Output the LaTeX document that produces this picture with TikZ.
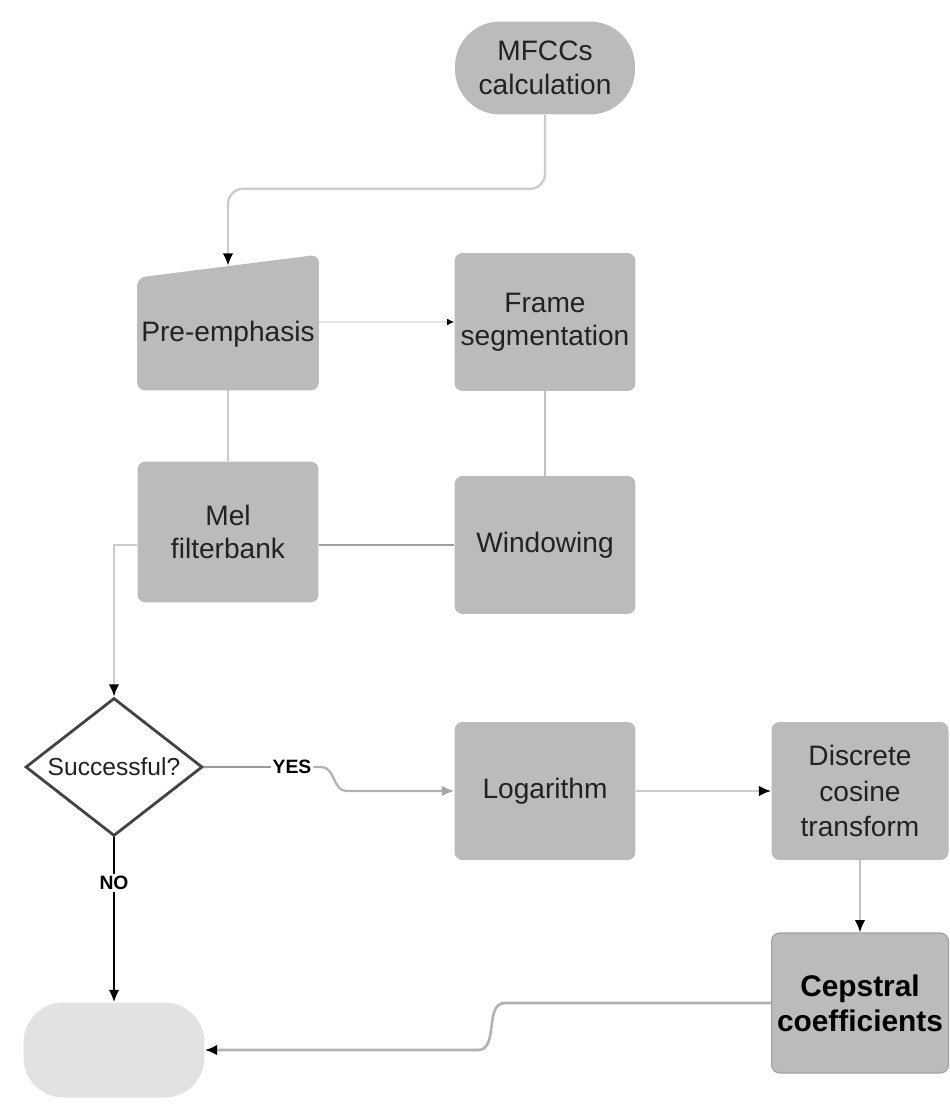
\documentclass[tikz,border=0pt]{standalone}
\usepackage{fontspec}
\setmainfont{Liberation Sans}
\usetikzlibrary{shapes.geometric,arrows.meta,backgrounds}
\definecolor{boxgray}{RGB}{187,187,187}
\definecolor{endgray}{RGB}{226,226,226}
\definecolor{inkgray}{RGB}{34,34,34}
\tikzset{
  box/.style={fill=boxgray, rounded corners=0.16cm, minimum width=3.62cm,
    minimum height=2.76cm, align=center, text=inkgray, inner sep=0pt,
    font=\fontsize{16}{19}\selectfont},
  pill/.style={box, rounded corners=0.9cm, minimum width=3.6cm, minimum height=1.86cm},
  decision/.style={diamond, draw=inkgray!85, line width=1.6pt, fill=white,
    minimum width=3.54cm, minimum height=2.76cm, inner sep=0pt},
  tag/.style={fill=white, text=black, inner sep=1pt,
    font=\bfseries\fontsize{11}{13}\selectfont},
  line/.style={draw=gray!40, line width=1.3pt},
  tip/.style={-{Latex[color=black, length=7pt, width=6pt]}},
}
\begin{document}
\begin{tikzpicture}[x=0.02cm, y=-0.02cm]
  \def\Xa{114} % decision column
  \def\Xb{228}
  \def\Xc{545}
  \def\Xd{860}

  \useasboundingbox (0,0) rectangle (949,1104);

        % start
        \node[pill] (mfcc) at (\Xc, 68) {MFCCs\\calculation};

        % first rows
        \node[box, fill=none, minimum height=2.24cm] (pre) at (\Xb, 334) {Pre-emphasis};
        \node[box] (frame) at (\Xc, 322) {Frame\\segmentation};
        \node[box, minimum height=2.82cm] (mel) at (\Xb, 532) {Mel\\filterbank};
        \node[box] (win) at (\Xc, 545) {Windowing};
        % slanted top of pre-emphasis
        \begin{scope}[on background layer]
          \fill[boxgray, rounded corners=0.16cm] (pre.south west) -- (pre.north west)
            -- ([yshift=0.46cm]pre.north east) -- (pre.south east) -- cycle;
        \end{scope}
        \coordinate (pretop) at ([yshift=0.24cm]pre.north);

        % decision
        \node[decision, label={[text=inkgray, font=\fontsize{14}{16}\selectfont]center:Successful?}]
          (succ) at (\Xa, 767) {};
        \node[box] (log) at (\Xc, 791) {Logarithm};
        \node[box, minimum width=3.54cm, font=\fontsize{16}{20}\selectfont]
          (dct) at (\Xd, 791) {Discrete\\cosine\\transform};
        \node[box, minimum width=3.54cm, minimum height=2.8cm, draw=gray!75, line width=0.6pt,
          text=black, font=\bfseries\fontsize{17}{20}\selectfont]
          (cep) at (\Xd, 1003) {Cepstral\\coefficients};
        \node[box, fill=endgray, rounded corners=0.8cm, minimum height=1.9cm]
          (endterm) at (\Xa, 1050) {};

        % labels
        \node[tag] (yes) at (292, 767) {YES};
        \node[tag] (no) at (\Xa, 883) {NO};

	% connectors
	\draw[line, tip, rounded corners=0.3cm] (mfcc.south) -- ++(0,74) -| (pretop);
	\draw[draw=gray!20, line width=1pt, -{Latex[color=black, length=4pt, width=4pt]}]
	  (pre.east |- frame.west) -- (frame.west);
	\draw[draw=gray!50, line width=1.3pt] (frame.south) -- (win.north);
	\draw[draw=gray!75, line width=1.2pt] (win.west) -- (win.west -| mel.east);
	\draw[line] (pre.south) -- (mel.north);
	\draw[line, tip] (mel.west |- win.west) -| (succ.north);
	% yes branch
	\draw[draw=gray!80, line width=1.3pt] (succ.east) -- (yes.west);
	\draw[draw=gray!60, line width=1.3pt, -{Latex[color=gray!70, length=7pt, width=6pt]}]
	  (yes.east) -- ++(8,0) to[out=0, in=180] ++(25,24) -- (log.west);
	\draw[line, tip] (log.east) -- (dct.west);
	\draw[draw=gray!50, line width=1.3pt, tip] (dct.south) -- (cep.north);
	% no branch
	\draw[black, line width=1.1pt, tip] (succ.south) -- (no) -- (endterm.north);
	\draw[draw=gray!60, line width=1.5pt, tip]
	  (cep.west) -- (505, 1003) to[out=180, in=0] (478, 1050) -- (endterm.east);
\end{tikzpicture}
\end{document}
